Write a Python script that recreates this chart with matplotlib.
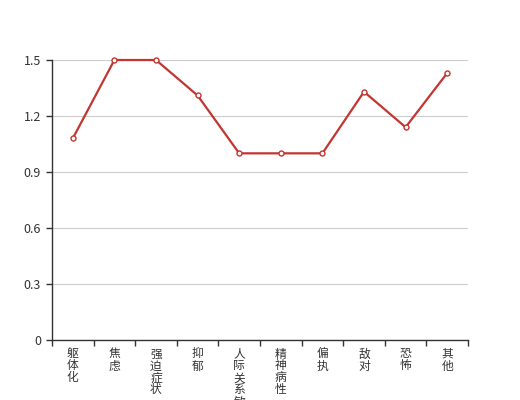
import numpy as np
import matplotlib
matplotlib.use("Agg")
import matplotlib.pyplot as plt

plt.rcParams['font.family'] = ['Noto Sans CJK SC', 'DejaVu Sans']

categories = ['躯体化', '焦虑', '强迫症状', '抑郁', '人际关系敏感',
              '精神病性', '偏执', '敌对', '恐怖', '其他']
values = [1.08, 1.5, 1.5, 1.31, 1.0, 1.0, 1.0, 1.33, 1.14, 1.43]
yticks = [0, 0.3, 0.6, 0.9, 1.2, 1.5]

fig = plt.figure(figsize=(5.2, 4), dpi=100)
ax = fig.add_axes([0.1, 0.15, 0.8, 0.7])

x = np.arange(len(categories))
ax.plot(x, values, color='#c23531', lw=1.6, marker='o', markersize=3.6,
        markerfacecolor='white', markeredgecolor='#c23531', markeredgewidth=1,
        zorder=3, clip_on=False)

ax.set_xlim(-0.5, len(categories) - 0.5)
ax.set_ylim(0, 1.5)
ax.set_yticks(yticks)
ax.set_yticklabels([f'{v:g}' for v in yticks])
ax.yaxis.grid(True, color='#cccccc', lw=0.8)
ax.set_axisbelow(True)

# ticks sit on the category boundaries
ax.set_xticks(np.arange(len(categories) + 1) - 0.5)
ax.set_xticklabels([])
ax.tick_params(axis='x', length=4, color='#333333', width=1)
ax.tick_params(axis='y', length=4, color='#333333', width=1,
               labelsize=9, labelcolor='#333333', pad=4)

for s in ['top', 'right']:
    ax.spines[s].set_visible(False)
for s in ['left', 'bottom']:
    ax.spines[s].set_color('#333333')
    ax.spines[s].set_linewidth(1)

# vertical labels, one character per row
step = 12 * 72 / 100  # 12 px between rows
for i, c in enumerate(categories):
    for k, ch in enumerate(c):
        ax.annotate(ch, xy=(i, 0), xycoords=('data', 'axes fraction'),
                    xytext=(0, -14 * 72 / 100 - k * step),
                    textcoords='offset points',
                    ha='center', va='center', fontsize=8.5, color='#333333')

fig.savefig('out.png', dpi=100)
